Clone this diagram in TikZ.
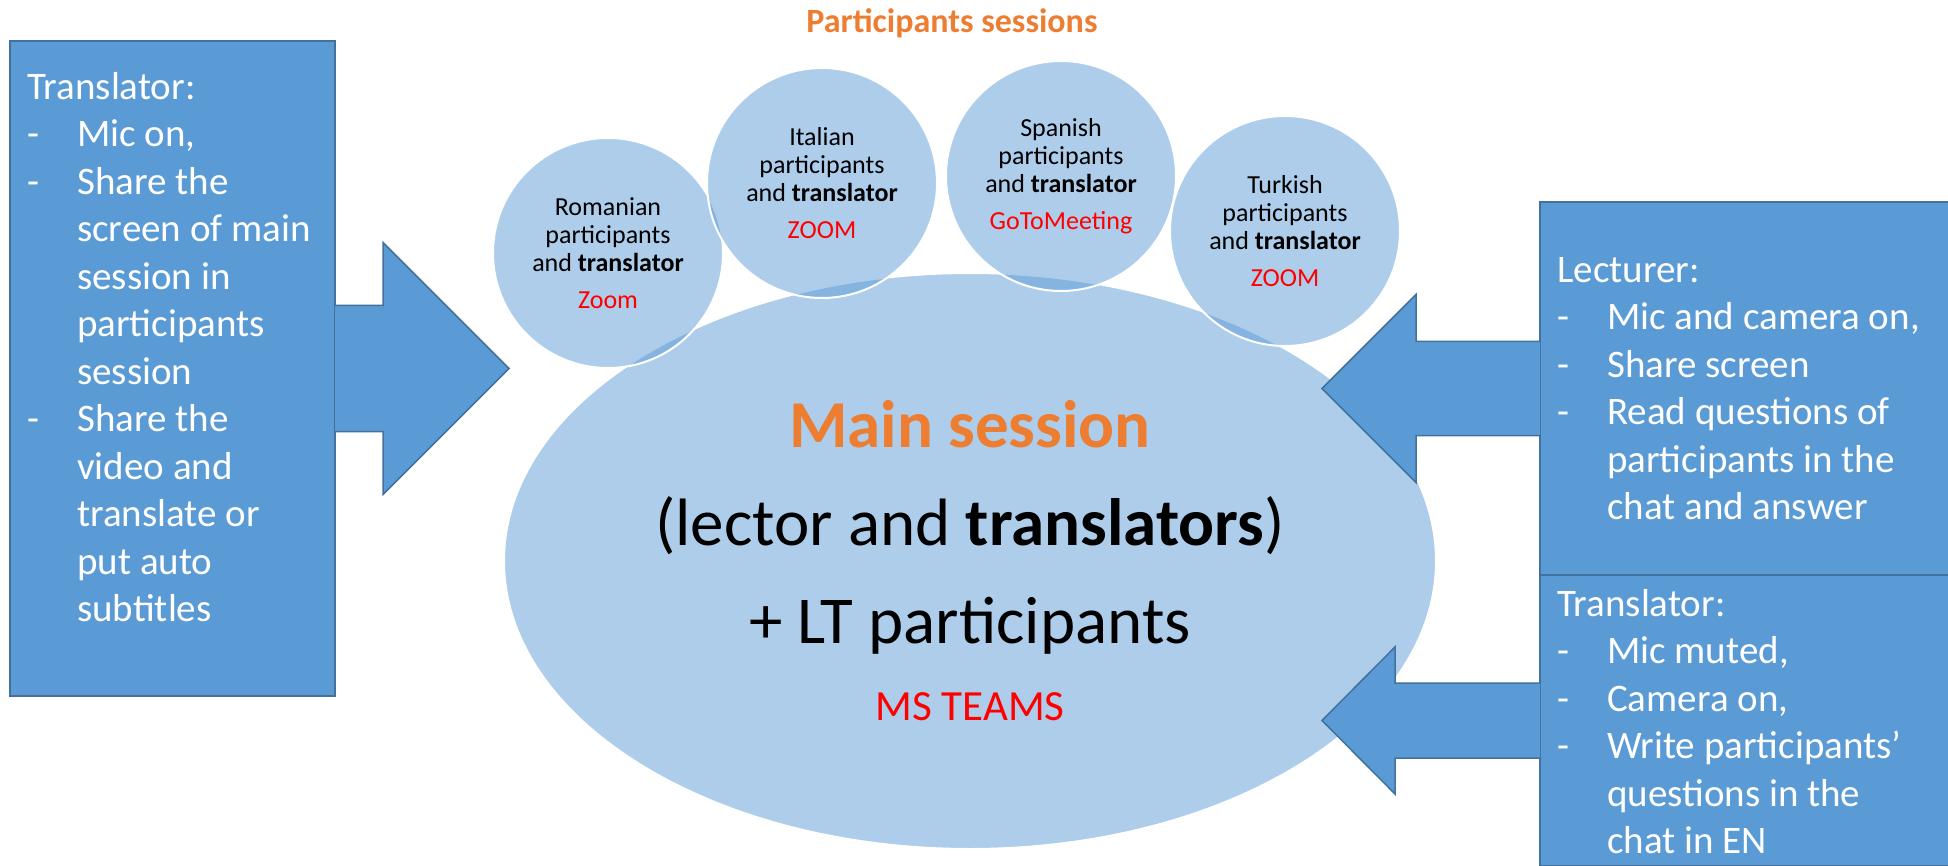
\documentclass[tikz,border=0pt]{standalone}
\usepackage{fontspec}
\setmainfont{Carlito}
\usetikzlibrary{positioning,shapes.geometric}

\definecolor{boxblue}{HTML}{5B9BD5}
\definecolor{boxline}{HTML}{41719C}
\definecolor{sessorange}{HTML}{ED7D31}
\definecolor{toolred}{HTML}{FF0000}
\newcommand{\dsh}{\makebox[50pt][l]{-}}
\newcommand{\indnt}{\hspace*{50pt}}

\begin{document}
\begin{tikzpicture}[x=1pt,y=-1pt,
  infobox/.style={draw=boxline,line width=1.5pt,fill=boxblue,inner sep=0pt,outer sep=0pt,anchor=north west},
  infotext/.style={anchor=north west,inner sep=0pt,align=left,text=white,font=\fontsize{39}{47.5}\selectfont},
  blockarrow/.style={fill=boxblue,draw=boxline,line width=1.5pt},
  mainsess/.style={ellipse,minimum width=932pt,minimum height=576pt,inner sep=0pt,fill=boxblue,fill opacity=0.5,text opacity=1,draw=white,draw opacity=1,line width=2pt,align=center,font=\fontsize{67}{98}\selectfont},
  session/.style={circle,minimum size=230pt,inner sep=0pt,fill=boxblue,fill opacity=0.5,text opacity=1,draw=white,draw opacity=1,line width=2pt,align=center,font=\fontsize{26}{28}\selectfont}]
\useasboundingbox (0,0) rectangle (1948,866);
\clip (0,0) rectangle (1948,866);

\node[mainsess] (main) at (970,561) {\textcolor{sessorange}{\bfseries Main session}\\(lector and \textbf{translators})\\+ LT participants\\[-21pt]{\fontsize{43}{50}\selectfont\color{toolred}MS TEAMS}};
\node[session] (ro) at (608,253) {Romanian\\participants\\and \textbf{translator}\\[9pt]\textcolor{toolred}{Zoom}};
\node[session] (it) at (822,183) {Italian\\participants\\and \textbf{translator}\\[9pt]\textcolor{toolred}{ZOOM}};
\node[session] (es) at (1061,176) {Spanish\\participants\\and \textbf{translator}\\[9pt]\textcolor{toolred}{GoToMeeting}};
\node[session] (tr) at (1285,231) {Turkish\\participants\\and \textbf{translator}\\[9pt]\textcolor{toolred}{ZOOM}};
\node[font=\bfseries\fontsize{34}{40}\selectfont,text=sessorange] (ptitle) at (952,23) {Participants sessions};

\node[infobox,minimum width=325pt,minimum height=655pt] (lbox) at (10,41) {};
\node[infobox,minimum width=430pt,minimum height=373pt] (lect) at (1540,202) {};
\node[infobox,minimum width=430pt,minimum height=291pt] (rtr) at (1540,575) {};

\path[blockarrow] (lbox.east) ++(0,-63) -- ++(48,0) -- ++(0,-63) -- ++(126,126) -- ++(-126,126) -- ++(0,-63) -- ++(-48,0);
\path[blockarrow] (lect.west) ++(0,-47) -- ++(-124,0) -- ++(0,-47) -- ++(-94,94) -- ++(94,94) -- ++(0,-47) -- ++(124,0);
\path[blockarrow] (rtr.west) ++(0,-37.5) -- ++(-145,0) -- ++(0,-36) -- ++(-73,73.5) -- ++(73,73.5) -- ++(0,-36) -- ++(145,0);

\node[infotext] (ltext) at ([shift={(17,31)}]lbox.north west) {Translator:\\\dsh Mic on,\\\dsh Share the\\\indnt screen of main\\\indnt session in\\\indnt participants\\\indnt session\\\dsh Share the\\\indnt video and\\\indnt translate or\\\indnt put auto\\\indnt subtitles};
\node[infotext] (lecttext) at ([shift={(17,55)}]lect.north west) {Lecturer:\\\dsh Mic and camera on,\\\dsh Share screen\\\dsh Read questions of\\\indnt participants in the\\\indnt chat and answer};
\node[infotext] (rtrtext) at ([shift={(17,14)}]rtr.north west) {Translator:\\\dsh Mic muted,\\\dsh Camera on,\\\dsh Write participants’\\\indnt questions in the\\\indnt chat in EN};
%\draw[red] (main.north) -- (main.south);
\end{tikzpicture}
\end{document}
